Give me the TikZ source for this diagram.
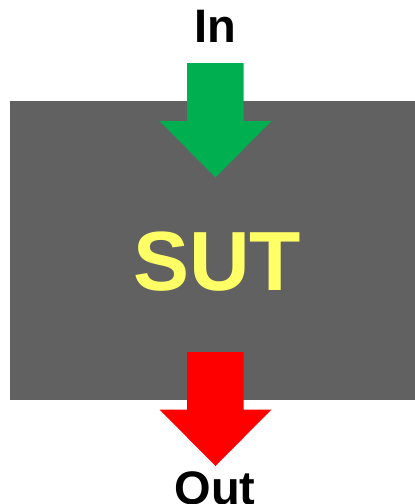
\documentclass[tikz,border=0pt]{standalone}
\usepackage{fontspec}
\setmainfont{Liberation Sans}
\definecolor{sutgray}{RGB}{97,97,97}
\definecolor{ingreen}{RGB}{0,176,80}
\definecolor{sutyellow}{RGB}{255,255,102}
\begin{document}
\begin{tikzpicture}[x=1pt,y=-1pt,
	label/.style={font=\fontsize{47}{47}\selectfont\bfseries,inner sep=0pt,anchor=base}]
	\useasboundingbox (0,0) rectangle (415,504);
	% system box
	\fill[sutgray] (10,101) rectangle (415,400);
	\node[font=\fontsize{84}{84}\selectfont\bfseries,text=sutyellow,inner sep=0pt,anchor=base] (sut) at (217,290) {SUT};
	% input arrow
	\fill[ingreen] (187,63) -- (243.5,63) -- (243.5,121) -- (271.5,121) -- (215.5,177.5) -- (159.5,121) -- (187,121) -- cycle;
	% output arrow
	\fill[red] (187,352) -- (243.5,352) -- (243.5,409.5) -- (271.5,409.5) -- (215.5,466) -- (159.5,409.5) -- (187,409.5) -- cycle;
	\node[label] (in) at (215,42.3) {In};
	\node[label] (out) at (215,504.5) {Out};
\end{tikzpicture}
\end{document}
